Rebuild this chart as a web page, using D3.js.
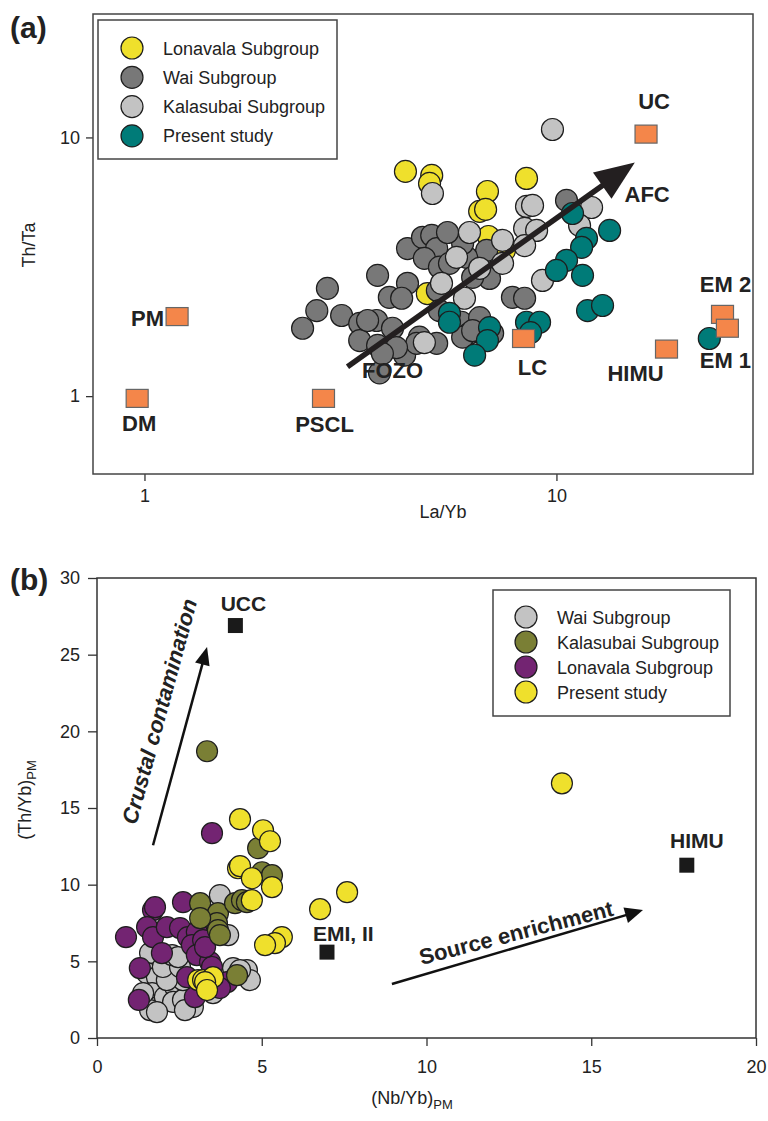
<!DOCTYPE html>
<html>
<head>
<meta charset="utf-8">
<script src="https://cdn.jsdelivr.net/npm/d3@7"></script>
<style>
  body { margin: 0; background: #fff; }
  svg { display: block; }
  text { font-family: 'Liberation Sans', Arial, Helvetica, sans-serif; fill: #222; }
</style>
</head>
<body>
<svg id="chart" width="768" height="1121"></svg>
<script>
// ---- panel (a) data : [La/Yb, Th/Ta] ----
const lonavalaA = [[4.30,7.39],[4.98,7.13],[4.92,6.64],[6.80,6.18],[8.46,6.94],[6.51,5.18],
  [6.73,5.27],[6.84,4.14],[7.48,3.66],[4.86,2.49]];
const waiA = [[2.78,2.61],[2.62,2.14],[2.42,1.83],[3.01,2.05],[3.33,1.91],[3.66,1.96],[4.00,1.83],
  [3.33,1.64],[3.68,1.57],[4.28,1.44],[3.72,1.23],[3.68,2.93],[3.93,2.41],[4.35,2.73],[4.21,2.39],
  [4.35,3.72],[4.73,4.11],[4.98,4.18],[5.12,3.72],[4.78,3.41],[5.20,3.15],[5.50,3.26],[5.14,2.56],
  [5.20,2.14],[4.65,1.69],[4.58,1.60],[5.12,1.60],[5.88,1.93],[6.15,1.75],[4.09,1.54],[3.48,1.96],
  [3.78,1.46],[10.58,5.71],[7.82,2.41],[8.37,2.39],[6.51,3.35],[6.77,3.66],[6.05,3.44],[5.92,1.69],
  [6.51,2.01],[7.00,1.75],[6.26,1.79],[6.88,2.85],[6.26,2.88],[5.92,3.89],[5.44,4.29]];
const kalasubaiA = [[9.78,10.73],[5.00,6.07],[6.15,4.29],[5.72,3.44],[6.51,3.12],[5.26,2.73],
  [5.98,2.39],[4.78,1.61],[8.46,5.41],[8.75,5.46],[8.37,4.45],[8.95,4.37],[8.37,3.82],[7.40,4.00],
  [7.40,3.26],[9.25,2.80],[12.17,5.36],[11.38,4.57]];
const presentA = [[10.94,5.08],[11.83,4.07],[11.51,3.76],[13.46,4.37],[10.58,3.35],[10.0,3.06],
  [11.57,2.93],[11.90,2.14],[12.94,2.24],[8.46,1.93],[9.10,1.93],[8.65,1.76],[5.50,2.09],[5.50,1.93],
  [6.88,1.84],[6.80,1.64],[6.33,1.44],[23.5,1.67]];
const endMembersA = [
  { name: 'DM', x: 0.96, y: 0.98 }, { name: 'PM', x: 1.20, y: 2.03 },
  { name: 'PSCL', x: 2.72, y: 0.98 }, { name: 'LC', x: 8.32, y: 1.67 },
  { name: 'HIMU', x: 18.5, y: 1.52 }, { name: 'EM 2', x: 25.3, y: 2.07 },
  { name: 'EM 1', x: 26.0, y: 1.83 }, { name: 'UC', x: 16.5, y: 10.3 }
];
const afcArrow = [[3.11, 1.30], [15.5, 8.0]];
const notesA = [{ text: 'FOZO', x: 4.0, y: 1.18 }, { text: 'AFC', x: 16.6, y: 5.61 }];
const legendA = ['Lonavala Subgroup', 'Wai Subgroup', 'Kalasubai Subgroup', 'Present study'];
const xTicksA = [1, 10], yTicksA = [1, 10];

// ---- panel (b) data : [(Nb/Yb)PM, (Th/Yb)PM] ----
const waiB = [[3.73,9.32],[3.98,6.71],[1.61,5.54],[1.52,4.23],[1.82,3.97],[1.67,2.93],[1.85,2.02],
  [2.06,2.67],[2.37,3.32],[2.31,2.35],[2.61,2.48],[2.91,2.02],[2.67,1.82],[2.61,3.78],[2.12,3.78],
  [2.00,4.63],[2.52,4.63],[3.52,2.93],[4.13,4.56],[4.55,4.43],[4.64,3.78],[4.34,4.43],[1.61,1.82],
  [1.82,1.69],[1.40,2.93],[2.28,5.41],[2.46,5.28]];
const lonavalaB = [[3.49,13.36],[0.88,6.58],[1.30,4.56],[1.27,2.48],[1.70,8.34],[1.76,8.53],
  [1.52,7.23],[1.70,6.58],[2.12,7.23],[1.97,5.54],[2.61,8.86],[2.52,7.17],[2.76,6.58],[3.03,6.91],
  [2.88,6.06],[3.22,6.38],[3.03,5.41],[3.43,4.95],[3.49,4.63],[2.73,3.97],[2.97,2.67],[3.95,3.65],
  [3.73,3.26],[3.28,5.93]];
const kalasubaiB = [[3.34,18.70],[4.89,12.38],[5.01,10.81],[5.31,10.62],[3.13,8.79],[3.67,8.14],
  [4.19,8.79],[3.64,7.49],[3.67,7.04],[3.73,6.71],[3.13,7.82],[4.25,4.10],[4.40,8.99],[4.55,8.86]];
const presentB = [[4.34,14.27],[5.04,13.55],[5.25,12.83],[4.28,11.07],[4.34,11.21],[4.70,10.42],
  [5.31,9.84],[4.70,8.99],[5.61,6.58],[5.40,6.19],[5.10,6.06],[3.07,3.78],[3.22,3.78],[3.52,3.97],
  [3.28,3.65],[3.34,3.13],[6.77,8.40],[7.59,9.51],[14.11,16.61]];
const endMembersB = [
  { name: 'UCC', x: 4.2, y: 26.9 }, { name: 'EMI, II', x: 6.98, y: 5.6 }, { name: 'HIMU', x: 17.9, y: 11.27 }
];
const crustalArrow = [[1.7, 12.57], [3.34, 25.5]];
const sourceArrow = [[8.95, 3.52], [16.57, 8.34]];
const notesB = [
  { text: 'Crustal contamination', x: 2.12, y: 21.17, italic: true },
  { text: 'Source enrichment', x: 12.78, y: 6.38, italic: false }
];
const legendB = ['Wai Subgroup', 'Kalasubai Subgroup', 'Lonavala Subgroup', 'Present study'];
const xTicksB = [0, 5, 10, 15, 20], yTicksB = [0, 5, 10, 15, 20, 25, 30];

// colours
const YELLOW = '#efe02c', DARK = '#787878', LIGHT = '#c3c3c3', TEAL = '#007b78';
const OLIVE = '#7a7f35', PURPLE = '#732472', ORANGE = '#f4864a';

const svg = d3.select('#chart');

function dots(g, data, x, y, fill, r) {
  g.append('g').selectAll('circle').data(data).join('circle')
    .attr('cx', d => x(d[0])).attr('cy', d => y(d[1])).attr('r', r)
    .attr('fill', fill).attr('stroke', '#1e1e1e').attr('stroke-width', 1.2);
}

function arrow(g, pts, x, y, width, len, hw, color) {
  const x0 = x(pts[0][0]), y0 = y(pts[0][1]), x1 = x(pts[1][0]), y1 = y(pts[1][1]);
  const L = Math.hypot(x1 - x0, y1 - y0), ux = (x1 - x0) / L, uy = (y1 - y0) / L;
  const bx = x1 - ux * len, by = y1 - uy * len;
  g.append('line').attr('x1', x0).attr('y1', y0).attr('x2', bx + ux * 2).attr('y2', by + uy * 2)
    .attr('stroke', color).attr('stroke-width', width);
  g.append('path')
    .attr('d', `M${x1},${y1}L${bx - uy * hw},${by + ux * hw}L${bx + uy * hw},${by - ux * hw}Z`)
    .attr('fill', color);
  return Math.atan2(y1 - y0, x1 - x0) * 180 / Math.PI;
}

function styleAxis(g) {
  g.selectAll('.domain').remove();
  g.selectAll('.tick line').attr('stroke', '#333').attr('stroke-width', 1.3);
  g.selectAll('.tick text').attr('fill', '#222').style('font-size', '18px')
    .style('font-family', "'Liberation Sans', Arial, sans-serif");
}

function legend(g, x0, y0, w, h, cx, cy0, step, names, colors) {
  g.append('rect').attr('x', x0).attr('y', y0).attr('width', w).attr('height', h)
    .attr('fill', '#fff').attr('stroke', '#444').attr('stroke-width', 1.5);
  names.forEach((n, i) => {
    g.append('circle').attr('cx', cx).attr('cy', cy0 + i * step).attr('r', 11)
      .attr('fill', colors[i]).attr('stroke', '#1e1e1e').attr('stroke-width', 1.2);
    g.append('text').attr('x', cx + 31).attr('y', cy0 + i * step + 6.5)
      .style('font-size', '18px').text(n);
  });
}

// ================= panel (a) =================
const xa = d3.scaleLog().domain([0.75, 30]).range([93, 753]);
const ya = d3.scaleLog().domain([0.5, 30]).range([474, 14]);
const ga = svg.append('g');

ga.append('g').attr('transform', 'translate(0,474)')
  .call(d3.axisBottom(xa).tickValues(xTicksA).tickFormat(d3.format('d')).tickSize(7).tickSizeOuter(0).tickPadding(8))
  .call(styleAxis);
ga.append('g').attr('transform', 'translate(93,0)')
  .call(d3.axisLeft(ya).tickValues(yTicksA).tickFormat(d3.format('d')).tickSize(7).tickSizeOuter(0).tickPadding(6))
  .call(styleAxis);

dots(ga, lonavalaA, xa, ya, YELLOW, 11);
dots(ga, waiA, xa, ya, DARK, 11);
dots(ga, kalasubaiA, xa, ya, LIGHT, 11);
dots(ga, presentA, xa, ya, TEAL, 11);

arrow(ga, afcArrow, xa, ya, 5.5, 40, 16, '#231f20');

// end-member squares and labels
const labA = { 'DM': [2, 33, 'middle'], 'PM': [-13, 9, 'end'], 'PSCL': [1, 34, 'middle'],
  'LC': [9, 36, 'middle'], 'HIMU': [-31, 32, 'middle'], 'EM 2': [3, -22, 'middle'],
  'EM 1': [-2, 40, 'middle'], 'UC': [8, -25, 'middle'] };
ga.append('g').selectAll('rect').data(endMembersA).join('rect')
  .attr('x', d => xa(d.x) - 11).attr('y', d => ya(d.y) - 9).attr('width', 22).attr('height', 18)
  .attr('fill', ORANGE).attr('stroke', '#666').attr('stroke-width', 1.2);
ga.append('g').selectAll('text').data(endMembersA).join('text')
  .attr('x', d => xa(d.x) + labA[d.name][0]).attr('y', d => ya(d.y) + labA[d.name][1])
  .attr('text-anchor', d => labA[d.name][2])
  .style('font-size', '22px').style('font-weight', 'bold').text(d => d.name);
ga.append('g').selectAll('text').data(notesA).join('text')
  .attr('x', d => xa(d.x)).attr('y', d => ya(d.y)).attr('text-anchor', 'middle')
  .style('font-size', '22px').style('font-weight', 'bold').text(d => d.text);

ga.append('rect').attr('x', 93).attr('y', 14).attr('width', 660).attr('height', 460)
  .attr('fill', 'none').attr('stroke', '#444').attr('stroke-width', 1.5);
legend(ga, 98, 20, 239, 139, 132, 48, 29.3, legendA, [YELLOW, DARK, LIGHT, TEAL]);

ga.append('text').attr('transform', 'translate(35,245) rotate(-90)').attr('text-anchor', 'middle')
  .style('font-size', '18px').text('Th/Ta');
ga.append('text').attr('x', 443).attr('y', 518).attr('text-anchor', 'middle')
  .style('font-size', '18px').text('La/Yb');
ga.append('text').attr('x', 10).attr('y', 38).style('font-size', '30px').style('font-weight', 'bold').text('(a)');

// ================= panel (b) =================
const xb = d3.scaleLinear().domain([0, 20]).range([97, 756]);
const yb = d3.scaleLinear().domain([0, 30]).range([1038, 578]);
const gb = svg.append('g');

gb.append('g').attr('transform', 'translate(0,1038)')
  .call(d3.axisBottom(xb).tickValues(xTicksB).tickSize(8).tickSizeOuter(0).tickPadding(14))
  .call(styleAxis);
gb.append('g').attr('transform', 'translate(97,0)')
  .call(d3.axisLeft(yb).tickValues(yTicksB).tickSize(9).tickSizeOuter(0).tickPadding(8))
  .call(styleAxis);

dots(gb, waiB, xb, yb, LIGHT, 10.5);
dots(gb, lonavalaB, xb, yb, PURPLE, 10.5);
dots(gb, kalasubaiB, xb, yb, OLIVE, 10.5);
dots(gb, presentB, xb, yb, YELLOW, 10.5);

const angC = arrow(gb, crustalArrow, xb, yb, 2.5, 18, 7.5, '#111');
const angS = arrow(gb, sourceArrow, xb, yb, 2.5, 18, 8, '#111');

const labB = { 'UCC': [8, -15, 'middle'], 'EMI, II': [-14, -11, 'start'], 'HIMU': [10, -17, 'middle'] };
gb.append('g').selectAll('rect').data(endMembersB).join('rect')
  .attr('x', d => xb(d.x) - 7.5).attr('y', d => yb(d.y) - 7.5).attr('width', 15).attr('height', 15)
  .attr('fill', '#1a1a1a');
gb.append('g').selectAll('text').data(endMembersB).join('text')
  .attr('x', d => xb(d.x) + labB[d.name][0]).attr('y', d => yb(d.y) + labB[d.name][1])
  .attr('text-anchor', d => labB[d.name][2])
  .style('font-size', '21px').style('font-weight', 'bold').text(d => d.name);
gb.append('g').selectAll('text').data(notesB).join('text')
  .attr('transform', (d, i) => `translate(${xb(d.x)},${yb(d.y)}) rotate(${i === 0 ? angC : angS + 2})`)
  .attr('text-anchor', 'middle')
  .style('font-size', '22px').style('font-weight', 'bold')
  .style('font-style', d => d.italic ? 'italic' : 'normal').text(d => d.text);

gb.append('rect').attr('x', 97).attr('y', 578).attr('width', 659).attr('height', 460)
  .attr('fill', 'none').attr('stroke', '#333').attr('stroke-width', 1.5);
legend(gb, 493, 590, 237, 126, 526, 617, 25, legendB, [LIGHT, OLIVE, PURPLE, YELLOW]);

const yt = gb.append('text').attr('transform', 'translate(31,800) rotate(-90)').attr('text-anchor', 'middle')
  .style('font-size', '18px');
yt.append('tspan').text('(Th/Yb)');
yt.append('tspan').attr('dy', 5).style('font-size', '13px').text('PM');
const xt = gb.append('text').attr('x', 412).attr('y', 1104).attr('text-anchor', 'middle')
  .style('font-size', '18px');
xt.append('tspan').text('(Nb/Yb)');
xt.append('tspan').attr('dy', 5).style('font-size', '13px').text('PM');
gb.append('text').attr('x', 10).attr('y', 590).style('font-size', '30px').style('font-weight', 'bold').text('(b)');
</script>
</body>
</html>
